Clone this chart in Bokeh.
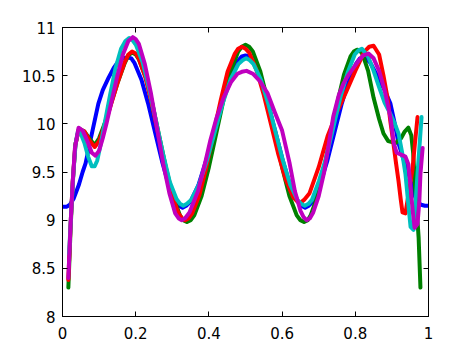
from bokeh.plotting import figure
from bokeh.models import Range1d, FixedTicker, LinearAxis
from bokeh.embed import file_html
from bokeh.resources import INLINE

# ---- data ----
blue_x = [0.0, 0.012, 0.02, 0.03, 0.036, 0.045, 0.055, 0.063, 0.072, 0.082, 0.09, 0.098, 0.11, 0.126, 0.14, 0.153, 0.165, 0.178, 0.188,
          0.197, 0.2155, 0.234, 0.253, 0.272, 0.2905, 0.309, 0.318, 0.328, 0.338,
          0.3495, 0.371, 0.3925, 0.414, 0.4355, 0.457, 0.4785, 0.49, 0.50, 0.51,
          0.52, 0.541, 0.561, 0.5815, 0.602, 0.622, 0.643, 0.653, 0.663, 0.673,
          0.683, 0.703, 0.723, 0.743, 0.763, 0.783, 0.803, 0.813, 0.823,
          0.84, 0.86, 0.88, 0.896, 0.908, 0.918, 0.93, 0.943, 0.955, 0.964, 0.972, 0.98, 0.99, 1.0]
blue_y = [9.14, 9.14, 9.16, 9.22, 9.28, 9.37, 9.50, 9.59, 9.75, 9.93, 10.07, 10.21, 10.35, 10.48, 10.58, 10.65, 10.68, 10.69, 10.68,
          10.63, 10.46, 10.21, 9.91, 9.61, 9.36, 9.19, 9.15, 9.13, 9.15,
          9.19, 9.36, 9.62, 9.92, 10.22, 10.48, 10.65, 10.70, 10.71, 10.70,
          10.65, 10.48, 10.22, 9.92, 9.62, 9.36, 9.19, 9.15, 9.13, 9.15,
          9.19, 9.36, 9.61, 9.91, 10.21, 10.46, 10.63, 10.68, 10.69,
          10.64, 10.50, 10.35, 10.21, 10.00, 9.80, 9.65, 9.52, 9.35, 9.24, 9.18, 9.16, 9.15, 9.15]

green_x = [0.016, 0.022, 0.028, 0.035, 0.045, 0.06, 0.075, 0.088, 0.10, 0.115, 0.13, 0.15, 0.17, 0.18, 0.19, 0.20,
           0.2088, 0.2275, 0.246, 0.265, 0.284, 0.3025, 0.321, 0.33, 0.34, 0.35,
           0.36, 0.38, 0.40, 0.42, 0.44, 0.46, 0.48, 0.49, 0.50, 0.51,
           0.52, 0.54, 0.56, 0.58, 0.60, 0.62, 0.64, 0.65, 0.66, 0.67,
           0.678, 0.696, 0.714, 0.7325, 0.751, 0.769, 0.787, 0.796, 0.805, 0.813,
           0.82, 0.835, 0.85, 0.865, 0.877, 0.89, 0.91, 0.925, 0.935, 0.945, 0.953, 0.958, 0.964, 0.969, 0.973, 0.978]
green_y = [8.30, 8.90, 9.40, 9.78, 9.95, 9.92, 9.84, 9.78, 9.85, 10.00, 10.18, 10.42, 10.63, 10.71, 10.74, 10.72,
           10.67, 10.48, 10.20, 9.86, 9.52, 9.24, 9.05, 9.00, 8.98, 9.00,
           9.05, 9.25, 9.55, 9.90, 10.25, 10.55, 10.75, 10.80, 10.82, 10.80,
           10.75, 10.55, 10.25, 9.90, 9.55, 9.25, 9.05, 9.00, 8.98, 9.00,
           9.05, 9.24, 9.53, 9.875, 10.22, 10.51, 10.70, 10.75, 10.77, 10.76,
           10.72, 10.55, 10.27, 10.05, 9.90, 9.82, 9.80, 9.85, 9.92, 9.96, 9.88, 9.70, 9.31, 9.05, 8.82, 8.30]

red_x = [0.016, 0.022, 0.028, 0.035, 0.045, 0.06, 0.075, 0.088, 0.10, 0.115, 0.13, 0.15, 0.17, 0.18, 0.19, 0.20,
         0.208, 0.226, 0.244, 0.2625, 0.281, 0.299, 0.317, 0.326, 0.335, 0.345,
         0.354, 0.374, 0.393, 0.4125, 0.432, 0.451, 0.471, 0.48, 0.49, 0.50,
         0.51, 0.53, 0.55, 0.57, 0.59, 0.61, 0.63, 0.64, 0.65, 0.66,
         0.675, 0.70, 0.725, 0.75, 0.775, 0.80, 0.825, 0.838, 0.85,
         0.865, 0.877, 0.888, 0.896, 0.904, 0.911, 0.918, 0.924, 0.929, 0.937, 0.946, 0.956, 0.963, 0.97]
red_y = [8.38, 8.95, 9.40, 9.78, 9.95, 9.92, 9.82, 9.76, 9.82, 9.98, 10.17, 10.42, 10.64, 10.72, 10.75, 10.73,
         10.68, 10.49, 10.21, 9.875, 9.54, 9.26, 9.07, 9.02, 9.00, 9.02,
         9.07, 9.26, 9.55, 9.90, 10.24, 10.54, 10.73, 10.78, 10.80, 10.78,
         10.74, 10.56, 10.30, 9.99, 9.68, 9.42, 9.24, 9.20, 9.18, 9.21,
         9.28, 9.55, 9.88, 10.12, 10.33, 10.55, 10.75, 10.80, 10.81,
         10.72, 10.50, 10.27, 10.02, 9.80, 9.60, 9.41, 9.22, 9.08, 9.07, 9.28, 9.52, 9.80, 10.07]

cyan_x = [0.018, 0.024, 0.03, 0.036, 0.042, 0.05, 0.06, 0.07, 0.08, 0.088, 0.095, 0.105, 0.115, 0.13, 0.145, 0.16, 0.172, 0.182, 0.191,
          0.2005, 0.219, 0.2375, 0.256, 0.2745, 0.293, 0.3115, 0.321, 0.33, 0.34,
          0.3515, 0.373, 0.3945, 0.416, 0.4375, 0.459, 0.4805, 0.492, 0.502, 0.512,
          0.522, 0.542, 0.562, 0.582, 0.602, 0.622, 0.642, 0.652, 0.662, 0.672,
          0.6815, 0.701, 0.7205, 0.74, 0.7595, 0.779, 0.7985, 0.808, 0.818,
          0.835, 0.85, 0.865, 0.88, 0.896, 0.908, 0.918, 0.928, 0.937, 0.944, 0.951, 0.959, 0.965, 0.97, 0.976, 0.981]
cyan_y = [8.65, 9.10, 9.50, 9.80, 9.92, 9.90, 9.80, 9.66, 9.56, 9.56, 9.62, 9.80, 10.00, 10.30, 10.58, 10.78, 10.86, 10.89, 10.87,
          10.82, 10.64, 10.35, 10.02, 9.69, 9.40, 9.22, 9.17, 9.15, 9.17,
          9.21, 9.37, 9.62, 9.915, 10.21, 10.46, 10.62, 10.66, 10.68, 10.66,
          10.62, 10.46, 10.21, 9.915, 9.62, 9.37, 9.21, 9.17, 9.15, 9.17,
          9.21, 9.41, 9.65, 9.965, 10.28, 10.53, 10.72, 10.76, 10.78,
          10.70, 10.55, 10.38, 10.22, 10.10, 10.00, 9.90, 9.70, 9.48, 9.20, 8.93, 8.90, 9.20, 9.48, 9.80, 10.07]

magenta_x = [0.016, 0.022, 0.028, 0.034, 0.044, 0.055, 0.068, 0.08, 0.09, 0.10, 0.11, 0.12, 0.135, 0.15, 0.165, 0.18, 0.192, 0.2,
             0.2086, 0.225, 0.242, 0.2585, 0.275, 0.292, 0.308, 0.317, 0.325, 0.335,
             0.347, 0.37, 0.39, 0.404, 0.42, 0.44, 0.46, 0.478, 0.49, 0.503,
             0.52, 0.54, 0.56, 0.58, 0.60, 0.62, 0.635, 0.65, 0.659, 0.667, 0.676,
             0.685, 0.70, 0.715, 0.728, 0.74, 0.755, 0.768, 0.78, 0.795, 0.81, 0.822, 0.836,
             0.85, 0.865, 0.88, 0.896, 0.905, 0.913, 0.925, 0.937, 0.945, 0.951, 0.956, 0.962, 0.97, 0.975, 0.978, 0.984]
magenta_y = [8.40, 8.95, 9.40, 9.75, 9.96, 9.93, 9.82, 9.70, 9.67, 9.72, 9.85, 10.00, 10.25, 10.50, 10.72, 10.86, 10.90, 10.88,
             10.83, 10.62, 10.31, 9.95, 9.59, 9.28, 9.07, 9.02, 9.00, 9.02,
             9.08, 9.30, 9.60, 9.83, 10.05, 10.27, 10.43, 10.52, 10.54, 10.55,
             10.52, 10.44, 10.32, 10.12, 9.93, 9.60, 9.30, 9.10, 9.03, 9.00, 9.02,
             9.08, 9.25, 9.50, 9.80, 10.08, 10.30, 10.42, 10.50, 10.58, 10.66, 10.71, 10.73,
             10.68, 10.55, 10.35, 10.07, 9.80, 9.70, 9.68, 9.66, 9.58, 9.35, 9.13, 8.92, 8.96, 9.20, 9.48, 9.75]

x_ticks = [0, 0.2, 0.4, 0.6, 0.8, 1]
x_tick_labels = ["0", "0.2", "0.4", "0.6", "0.8", "1"]
y_ticks = [8, 8.5, 9, 9.5, 10, 10.5, 11]
y_tick_labels = ["8", "8.5", "9", "9.5", "10", "10.5", "11"]

series = [
    (blue_x, blue_y, "#0000ff"),
    (green_x, green_y, "#008000"),
    (red_x, red_y, "#ff0000"),
    (cyan_x, cyan_y, "#00bfbf"),
    (magenta_x, magenta_y, "#bf00bf"),
]

FONT = "DejaVu Sans"
FSIZE = "15px"

p = figure(width=465, height=347, output_backend="svg", toolbar_location=None,
           x_range=Range1d(0, 1), y_range=Range1d(8, 11),
           min_border_left=62, min_border_top=27, min_border_right=37, min_border_bottom=31,
           x_axis_location=None, y_axis_location=None)
p.background_fill_color = "white"
p.border_fill_color = "white"
p.outline_line_color = "black"
p.outline_line_width = 1
p.xgrid.visible = False
p.ygrid.visible = False

def make_axis(cls_ticks, labels, show_labels):
    ax = LinearAxis(ticker=FixedTicker(ticks=cls_ticks))
    ax.major_label_overrides = {t: l for t, l in zip(cls_ticks, labels)}
    ax.major_tick_in = 5
    ax.major_tick_out = 0
    ax.minor_tick_in = 0
    ax.minor_tick_out = 0
    ax.axis_line_color = "black"
    ax.major_tick_line_color = "black"
    ax.major_label_text_font = FONT
    ax.major_label_text_font_size = FSIZE
    ax.major_label_text_color = "black"
    if not show_labels:
        ax.major_label_text_alpha = 0
        ax.major_label_text_font_size = "1px"
    return ax

xb = make_axis(x_ticks, x_tick_labels, True)
xb.major_label_standoff = 10
yl = make_axis(y_ticks, y_tick_labels, True)
yl.major_label_standoff = 7
xt = make_axis(x_ticks, x_tick_labels, False)
yr = make_axis(y_ticks, y_tick_labels, False)
p.add_layout(xb, "below")
p.add_layout(yl, "left")
p.add_layout(xt, "above")
p.add_layout(yr, "right")

for xs, ys, c in series:
    p.line(xs, ys, line_color=c, line_width=4, line_join="round", line_cap="round")

open("out.html", "w").write(file_html(p, INLINE))
